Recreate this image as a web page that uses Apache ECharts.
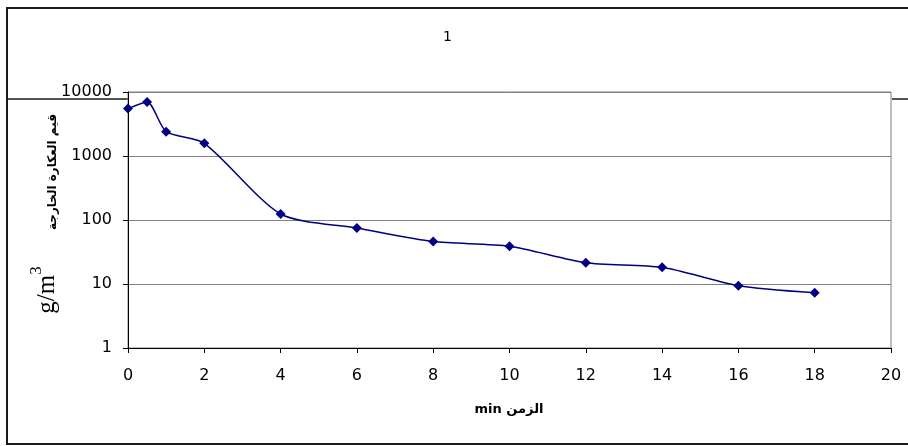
<!DOCTYPE html>
<html>
<head>
<meta charset="utf-8">
<script src="https://cdn.jsdelivr.net/npm/echarts@6/dist/echarts.min.js"></script>
<style>
  html, body { margin: 0; padding: 0; background: #fff; }
  #chart { width: 908px; height: 446px; }
</style>
</head>
<body>
<div id="chart"></div>
<script>
// Time (min) and outgoing turbidity readings
const timeMin = [0, 0.5, 1, 2, 4, 6, 8, 10, 12, 14, 16, 18];
const turbidity = [5500, 7000, 2400, 1580, 124, 75, 46, 39, 21.5, 18.2, 9.4, 7.3];

const xTicks = [0, 2, 4, 6, 8, 10, 12, 14, 16, 18, 20];
const yTicks = [1, 10, 100, 1000, 10000];

const titleText = '1';
const xName = 'min الزمن';
const yNameAr = 'قيم العكارة الخارجة';

const tickFont = 'DejaVu Sans, Liberation Sans, Arial';

const chart = echarts.init(document.getElementById('chart'), null, { renderer: 'canvas' });

const points = timeMin.map((t, i) => [t, turbidity[i]]);

chart.setOption({
  animation: false,
  backgroundColor: '#fff',
  title: {
    text: titleText,
    left: 438,
    top: 25,
    textStyle: { fontFamily: tickFont, fontSize: 14, fontWeight: 'normal', color: '#000' }
  },
  grid: {
    left: 128, right: 17, top: 92, bottom: 98,
    show: true, backgroundColor: '#fff', borderColor: '#808080', borderWidth: 1
  },
  xAxis: {
    type: 'value',
    min: xTicks[0], max: xTicks[xTicks.length - 1], interval: 2,
    axisLine: { show: true, onZero: false, lineStyle: { color: '#000', width: 1 } },
    axisTick: { show: true, length: 5, lineStyle: { color: '#000' } },
    axisLabel: { margin: 20, fontFamily: tickFont, fontSize: 16, color: '#000' },
    splitLine: { show: false }
  },
  yAxis: {
    type: 'log',
    logBase: 10,
    min: yTicks[0], max: yTicks[yTicks.length - 1],
    axisLine: { show: true, lineStyle: { color: '#000', width: 1 } },
    axisTick: { show: true, length: 5, lineStyle: { color: '#000' } },
    axisLabel: {
      margin: 16, fontFamily: tickFont, fontSize: 16, color: '#000',
      formatter: v => String(Math.round(v))
    },
    splitLine: { show: true, lineStyle: { color: '#808080', width: 1 } },
    minorTick: { show: false }
  },
  graphic: [
    // outer chart frame (left, top, bottom)
    { type: 'line', z: -10, shape: { x1: 7, y1: 8, x2: 7, y2: 444 }, style: { stroke: '#1a1a1a', lineWidth: 2 } },
    { type: 'line', z: -10, shape: { x1: 6, y1: 8, x2: 908, y2: 8 }, style: { stroke: '#1a1a1a', lineWidth: 2 } },
    { type: 'line', z: -10, shape: { x1: 6, y1: 444, x2: 908, y2: 444 }, style: { stroke: '#1a1a1a', lineWidth: 2 } },
    // inner dividing rule
    { type: 'line', z: -10, shape: { x1: 8, y1: 99, x2: 128, y2: 99 }, style: { stroke: '#1a1a1a', lineWidth: 1.5 } },
    { type: 'line', z: -10, shape: { x1: 892, y1: 99, x2: 908, y2: 99 }, style: { stroke: '#1a1a1a', lineWidth: 1.5 } },
    // y-axis titles
    {
      type: 'text', x: 53, y: 172, rotation: Math.PI / 2,
      style: {
        text: yNameAr, fontFamily: 'DejaVu Sans', fontSize: 12, fontWeight: 'bold',
        fill: '#000', align: 'center', verticalAlign: 'middle'
      }
    },
    {
      type: 'text', x: 44, y: 290, rotation: Math.PI / 2,
      style: {
        text: '{u|g/m}{s|3}', align: 'center', verticalAlign: 'middle',
        rich: {
          u: { fontFamily: 'Liberation Serif, Times New Roman', fontSize: 25, fill: '#000', verticalAlign: 'bottom' },
          s: { fontFamily: 'Liberation Serif, Times New Roman', fontSize: 17, fill: '#000', verticalAlign: 'top', padding: [0, 0, 14, 0] }
        }
      }
    },
    // x-axis title
    {
      type: 'text', x: 509, y: 410,
      style: {
        text: xName, fontFamily: 'DejaVu Sans', fontSize: 13, fontWeight: 'bold',
        fill: '#000', align: 'center', verticalAlign: 'middle'
      }
    }
  ],
  series: [{
    type: 'line',
    data: points,
    smooth: 0.25,
    symbol: 'diamond',
    symbolSize: 10,
    lineStyle: { color: '#000080', width: 1.5 },
    itemStyle: { color: '#000080' }
  }]
});
</script>
</body>
</html>
